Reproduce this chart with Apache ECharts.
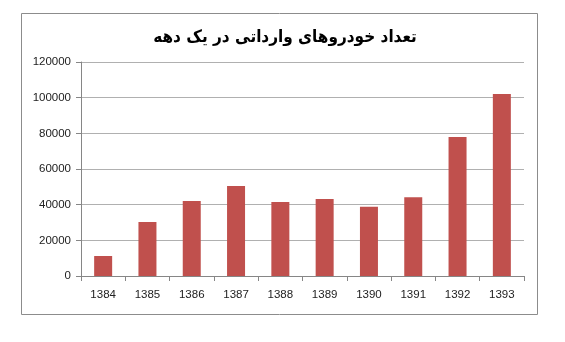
<!DOCTYPE html>
<html><head><meta charset="utf-8">
<script src="https://cdn.jsdelivr.net/npm/echarts@6/dist/echarts.min.js"></script>
<style>html,body{margin:0;padding:0;background:#fff}#c{width:565px;height:342px}</style>
</head><body><div id="c"></div>
<script>
const titleText = 'تعداد خودروهای وارداتی در یک دهه';
const categories = ['1384','1385','1386','1387','1388','1389','1390','1391','1392','1393'];
const values = [11200, 30300, 42000, 50500, 41500, 43200, 38800, 44200, 78000, 102000];
const yTicks = [0, 20000, 40000, 60000, 80000, 100000, 120000];

const chart = echarts.init(document.getElementById('c'), null, {renderer:'canvas'});
chart.setOption({
  animation:false,
  backgroundColor:'#fff',
  title:{text:titleText, left:280, textAlign:'center', top:24,
    textStyle:{fontFamily:'DejaVu Sans Condensed', fontWeight:'bold', fontSize:17, color:'#000'}},
  graphic:[{type:'rect', shape:{x:21.5,y:13.5,width:516,height:301}, style:{fill:'none', stroke:'#8c8c8c', lineWidth:1}, silent:true}],
  grid:{left:81, right:41, top:62, bottom:66},
  xAxis:{type:'category', data:categories,
    axisLine:{lineStyle:{color:'#868686'}},
    axisTick:{show:true, alignWithLabel:false, length:5, lineStyle:{color:'#868686'}},
    axisLabel:{color:'#222', fontFamily:'Liberation Sans', fontSize:11.5, margin:13}},
  yAxis:{type:'value', min:yTicks[0], max:yTicks[yTicks.length-1], interval:20000,
    axisLine:{show:true, lineStyle:{color:'#868686'}},
    axisTick:{show:true, length:5, lineStyle:{color:'#868686'}},
    splitLine:{lineStyle:{color:'#b0b0b0'}},
    axisLabel:{color:'#222', fontFamily:'Liberation Sans', fontSize:11.5, margin:10,
      formatter:function(v){return String(v);}}},
  series:[{type:'bar', data:values, barWidth:18, itemStyle:{color:'#C0504D'}}]
});
</script></body></html>
